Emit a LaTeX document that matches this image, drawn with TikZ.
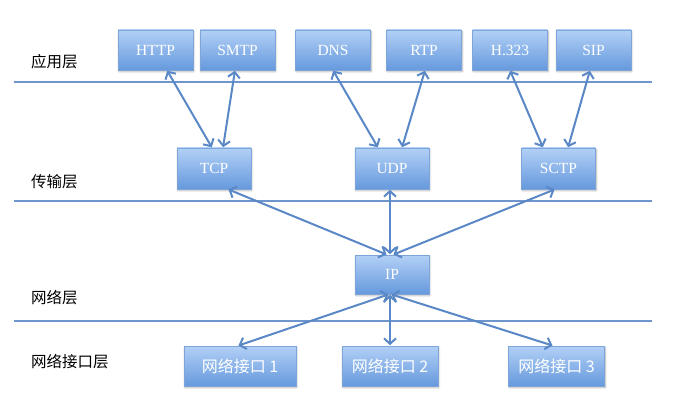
\documentclass[tikz,border=0pt]{standalone}
\usepackage{fontspec}
\setmainfont{Liberation Serif}
\newfontfamily\cjk{Noto Sans CJK SC}
\usetikzlibrary{arrows.meta,shadows.blur}
\definecolor{boxtop}{HTML}{B2D0F6}
\definecolor{boxbot}{HTML}{6699DD}
\definecolor{boxline}{HTML}{7EA5DA}
\definecolor{arrcol}{HTML}{5A87C6}
\definecolor{linecol}{HTML}{6F96CC}
\tikzset{
  box/.style={draw=boxline, line width=0.6pt, top color=boxtop, bottom color=boxbot,
    inner sep=0pt, minimum height=40pt, text=white, font=\fontsize{15.5}{17}\selectfont,
    blur shadow={shadow blur steps=6, shadow xshift=0.8pt, shadow yshift=-1.6pt, shadow opacity=30}},
  topbox/.style={box, minimum width=75pt},
  midbox/.style={box, minimum width=74pt, minimum height=41pt},
  botbox/.style={box, minimum width=96pt, font=\cjk\fontsize{16}{18}\selectfont},
  layerlabel/.style={anchor=west, inner sep=0pt, font=\cjk\fontsize{15.5}{17}\selectfont},
  hline/.style={draw=linecol, line width=2pt},
  arr/.style={draw=arrcol, line width=2pt, {Straight Barb[length=5.5pt,width=12pt]}-{Straight Barb[length=5.5pt,width=12pt]}, shorten <=0.5pt, shorten >=0.5pt}
}
\begin{document}
\begin{tikzpicture}[x=1pt,y=-1pt]
\useasboundingbox (0,0) rectangle (687,414);
% layer separator lines
\coordinate (l1a) at (14,82);  \coordinate (l1b) at (652,82);
\coordinate (l2a) at (14,201); \coordinate (l2b) at (652,201);
\coordinate (l3a) at (14,321); \coordinate (l3b) at (652,321);
\draw[hline] (l1a) -- (l1b);
\draw[hline] (l2a) -- (l2b);
\draw[hline] (l3a) -- (l3b);
% layer labels
\node[layerlabel] (lab1) at (31,62) {应用层};
\node[layerlabel] (lab2) at (31,182) {传输层};
\node[layerlabel] (lab3) at (31,298) {网络层};
\node[layerlabel] (lab4) at (31,362) {网络接口层};
% application layer
\node[topbox] (http) at (155.5,50) {HTTP};
\node[topbox] (smtp) at (237.5,50) {SMTP};
\node[topbox] (dns)  at (333,50) {DNS};
\node[topbox] (rtp)  at (424,50) {RTP};
\node[topbox] (h323) at (510,50) {H.323};
\node[topbox] (sip)  at (593.5,50) {SIP};
% transport layer
\node[midbox] (tcp)  at (214,168.5) {TCP};
\node[midbox] (udp)  at (392,168.5) {UDP};
\node[midbox] (sctp) at (558.5,168.5) {SCTP};
% network layer
\node[midbox, minimum height=39pt] (ip) at (392,274.5) {IP};
% interface layer
\node[botbox, minimum width=112pt] (if1) at (240,366) {网络接口 1};
\node[botbox] (if2) at (390,366) {网络接口 2};
\node[botbox] (if3) at (556.5,366) {网络接口 3};
% connectors
\draw[arr] ([xshift=11.5pt]http.south) -- ([xshift=-2pt]tcp.north);
\draw[arr] ([xshift=-2.5pt]smtp.south) -- ([xshift=9pt]tcp.north);
\draw[arr] (dns.south) -- ([xshift=-14pt]udp.north);
\draw[arr] ([xshift=1pt]rtp.south) -- ([xshift=10pt]udp.north);
\draw[arr] (h323.south) -- ([xshift=-15.5pt]sctp.north);
\draw[arr] ([xshift=-3.5pt]sip.south) -- ([xshift=9.5pt]sctp.north);
\draw[arr] ([xshift=14pt]tcp.south) -- ([xshift=-5pt]ip.north);
\draw[arr] ([xshift=-2pt]udp.south) -- ([xshift=-2pt]ip.north);
\draw[arr] ([xshift=-3.5pt]sctp.south) -- ([xshift=1pt]ip.north);
\draw[arr] ([xshift=-3pt]ip.south) -- ([xshift=-2pt]if1.north);
\draw[arr] ([xshift=-2pt]ip.south) -- (if2.north);
\draw[arr] ([xshift=-1pt]ip.south) -- ([xshift=-3.5pt]if3.north);
\end{tikzpicture}
\end{document}
